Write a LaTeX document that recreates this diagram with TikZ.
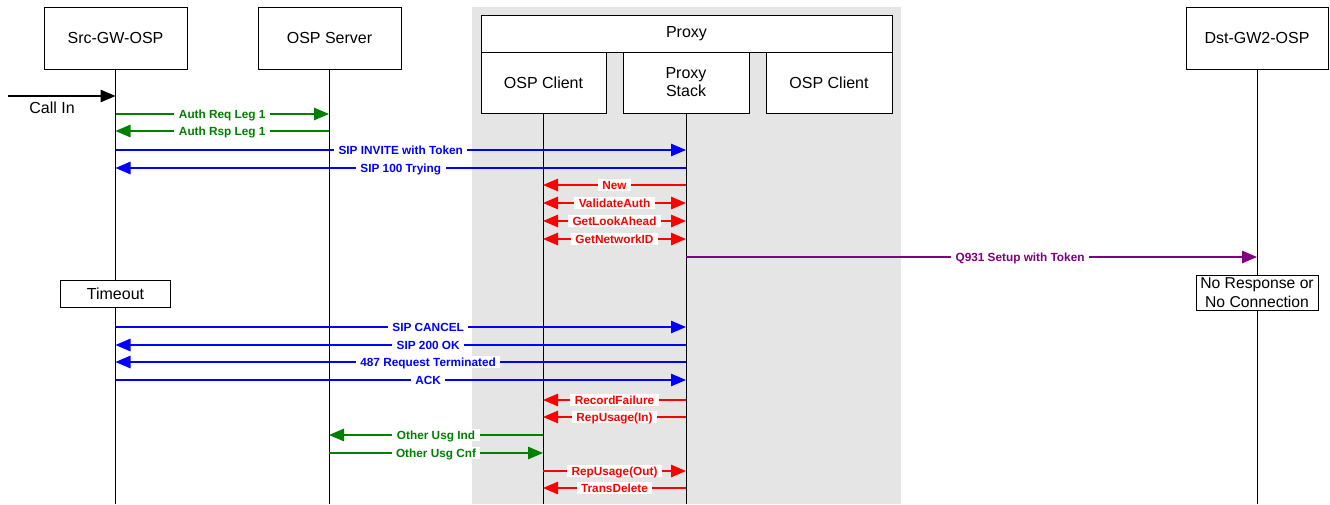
\documentclass[tikz,border=0pt]{standalone}
\usepackage{fontspec}
\setmainfont{Liberation Sans}
\usetikzlibrary{arrows.meta}
\definecolor{msggreen}{RGB}{0,128,0}
\definecolor{msgblue}{RGB}{0,0,255}
\definecolor{msgred}{RGB}{255,0,0}
\definecolor{msgpurple}{RGB}{128,0,128}
\definecolor{proxybg}{RGB}{229,229,229}
\begin{document}
\begin{tikzpicture}[x=1pt,y=-1pt,
  party/.style={draw=black, line width=0.8pt, fill=white, inner sep=1pt,
    align=center, font=\fontsize{16}{18}\selectfont},
  lifeline/.style={draw=black, line width=0.8pt},
  tip/.style={-{Triangle[length=15pt,width=12.5pt]}},
  both/.style={{Triangle[length=15pt,width=12.5pt]}-{Triangle[length=15pt,width=12.5pt]}},
  msg/.style={line width=1.2pt},
  green msg/.style={msg, draw=msggreen, text=msggreen},
  blue msg/.style={msg, draw=msgblue, text=msgblue},
  red msg/.style={msg, draw=msgred, text=msgred},
  purple msg/.style={msg, draw=msgpurple, text=msgpurple},
  lbl/.style={fill=white, inner xsep=4.5pt, inner ysep=2pt,
    text height=8.4pt, text depth=0pt,
    font=\fontsize{11.8}{12}\selectfont\bfseries}]
\useasboundingbox (0,0) rectangle (1330,504);

% shaded proxy area
\fill[proxybg] (472,7) rectangle (901,504);

% participants
\node[party, minimum width=143pt, minimum height=62pt] (src) at (115.5,38) {Src-GW-OSP};
\node[party, minimum width=143pt, minimum height=62pt] (osp) at (329.5,38) {OSP Server};
\node[party, minimum width=142pt, minimum height=62pt] (dst) at (1257,38) {Dst-GW2-OSP};
\node[party, minimum width=411pt, minimum height=37pt] (proxy) at (686.5,33.5) {Proxy};
\node[party, minimum width=125pt, minimum height=61pt] (cli1) at (543.5,82.5) {OSP Client};
\node[party, minimum width=126pt, minimum height=61pt] (stack) at (686,82.5) {Proxy\\Stack};
\node[party, minimum width=126pt, minimum height=61pt] (cli2) at (829,82.5) {OSP Client};

% lifelines
\coordinate (srcL) at (115.5,69);
\coordinate (ospL) at (329,69);
\coordinate (cliL) at (543,113);
\coordinate (stkL) at (686,113);
\coordinate (dstL) at (1257,69);
\foreach \c in {srcL,ospL,cliL,stkL,dstL}
  \draw[lifeline] (\c) -- (\c |- 0,504);

% incoming call
\coordinate (callin) at (8,96);
\draw[black, line width=1.2pt, tip] (callin) -- (srcL |- callin);
\node[font=\fontsize{16}{18}\selectfont] (callinlbl) at (52,108) {Call In};

% authorisation
\draw[green msg, tip] (srcL |- 0,114) -- node[lbl]{Auth Req Leg 1} (ospL |- 0,114);
\draw[green msg, tip] (ospL |- 0,131) -- node[lbl]{Auth Rsp Leg 1} (srcL |- 0,131);

% call setup
\draw[blue msg, tip] (srcL |- 0,150) -- node[lbl]{SIP INVITE with Token} (stkL |- 0,150);
\draw[blue msg, tip] (stkL |- 0,168) -- node[lbl]{SIP 100 Trying} (srcL |- 0,168);

\draw[red msg, tip] (stkL |- 0,185) -- node[lbl]{New} (cliL |- 0,185);
\draw[red msg, both] (cliL |- 0,203) -- node[lbl]{ValidateAuth} (stkL |- 0,203);
\draw[red msg, both] (cliL |- 0,221) -- node[lbl]{GetLookAhead} (stkL |- 0,221);
\draw[red msg, both] (cliL |- 0,239) -- node[lbl]{GetNetworkID} (stkL |- 0,239);

\draw[purple msg, tip] (stkL |- 0,257) -- node[lbl, pos=0.585]{Q931 Setup with Token} (dstL |- 0,257);

% notes on the lifelines
\node[party, minimum width=110pt, minimum height=27pt] (timeout) at (115.5,293.5) {Timeout};
\node[party, inner xsep=3pt, inner ysep=0.5pt, minimum width=122pt, minimum height=35pt,
  font=\fontsize{15.7}{18.5}\selectfont] (nores) at (1257,292.5) {No Response or\\No Connection};

% cancellation
\draw[blue msg, tip] (srcL |- 0,327) -- node[lbl, pos=0.548]{SIP CANCEL} (stkL |- 0,327);
\draw[blue msg, tip] (stkL |- 0,345) -- node[lbl, pos=0.452]{SIP 200 OK} (srcL |- 0,345);
\draw[blue msg, tip] (stkL |- 0,362) -- node[lbl, pos=0.452]{487 Request Terminated} (srcL |- 0,362);
\draw[blue msg, tip] (srcL |- 0,380) -- node[lbl, pos=0.548]{ACK} (stkL |- 0,380);

% usage reporting
\draw[red msg, tip] (stkL |- 0,400) -- node[lbl]{RecordFailure} (cliL |- 0,400);
\draw[red msg, tip] (stkL |- 0,417) -- node[lbl]{RepUsage(In)} (cliL |- 0,417);
\draw[green msg, tip] (cliL |- 0,435) -- node[lbl]{Other Usg Ind} (ospL |- 0,435);
\draw[green msg, tip] (ospL |- 0,453) -- node[lbl]{Other Usg Cnf} (cliL |- 0,453);
\draw[red msg, tip] (cliL |- 0,471) -- node[lbl]{RepUsage(Out)} (stkL |- 0,471);
\draw[red msg, tip] (stkL |- 0,488) -- node[lbl]{TransDelete} (cliL |- 0,488);
\end{tikzpicture}
\end{document}
